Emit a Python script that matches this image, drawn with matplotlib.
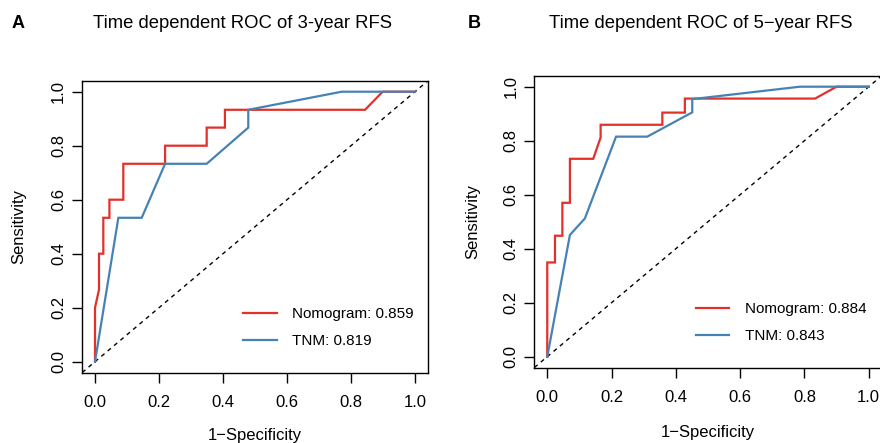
import matplotlib
matplotlib.use("Agg")
import matplotlib.pyplot as plt

plt.rcParams['font.family'] = ['Liberation Sans', 'DejaVu Sans']

# ---- data ----
ticks = [0.0, 0.2, 0.4, 0.6, 0.8, 1.0]
tick_labels = ["0.0", "0.2", "0.4", "0.6", "0.8", "1.0"]

titles = ["Time dependent ROC of 3-year RFS", "Time dependent ROC of 5\u2212year RFS"]
panel_letters = ["A", "B"]
series_names = ["Nomogram", "TNM"]
auc_3y = [0.859, 0.819]
auc_5y = [0.884, 0.843]

nomo3_fpr = [0, 0, 0.0125, 0.0125, 0.026, 0.026, 0.045, 0.045, 0.0885, 0.0885,
             0.219, 0.219, 0.349, 0.349, 0.406, 0.406, 0.844, 0.899, 1.0]
nomo3_tpr = [0, 0.2, 0.267, 0.4, 0.4, 0.533, 0.533, 0.6, 0.6, 0.733,
             0.733, 0.8, 0.8, 0.867, 0.867, 0.933, 0.933, 1.0, 1.0]
tnm3_fpr = [0, 0.073, 0.146, 0.219, 0.349, 0.479, 0.479, 0.771, 1.0]
tnm3_tpr = [0, 0.533, 0.533, 0.733, 0.733, 0.867, 0.933, 1.0, 1.0]

nomo5_fpr = [0, 0, 0.024, 0.024, 0.047, 0.047, 0.0705, 0.0705, 0.143, 0.166,
             0.166, 0.358, 0.358, 0.428, 0.428, 0.833, 0.900, 1.0]
nomo5_tpr = [0, 0.349, 0.349, 0.448, 0.448, 0.570, 0.570, 0.733, 0.733, 0.812,
             0.859, 0.859, 0.904, 0.904, 0.956, 0.956, 1.0, 1.0]
tnm5_fpr = [0, 0.0705, 0.117, 0.214, 0.311, 0.451, 0.451, 0.786, 1.0]
tnm5_tpr = [0, 0.451, 0.512, 0.815, 0.815, 0.905, 0.954, 1.0, 1.0]

RED = '#E3302B'
BLUE = '#4682B4'

W, H = 880, 443
fig = plt.figure(figsize=(W / 100, H / 100), dpi=100)

# axes rectangles in pixels (left, top, right, bottom)
rects = [(82.2, 80.9, 427.8, 372.5), (534.4, 75.9, 881.6, 367.5)]
title_x = [242, 701]
letter_x = [18, 474]
ylabel_x = [18.3, 472.3]
xlabel_top = [428, 425]

panels = [
    (nomo3_fpr, nomo3_tpr, tnm3_fpr, tnm3_tpr, auc_3y),
    (nomo5_fpr, nomo5_tpr, tnm5_fpr, tnm5_tpr, auc_5y),
]

for i, (nx, ny, tx, ty, aucs) in enumerate(panels):
    l, t, r, b = rects[i]
    ax = fig.add_axes([l / W, 1 - b / H, (r - l) / W, (b - t) / H])
    ax.set_xlim(-0.04, 1.04)
    ax.set_ylim(-0.04, 1.04)
    ax.axline((0, 0), (1, 1), color='black', lw=1.0, ls=(0, (3, 3)))
    ax.plot(nx, ny, color=RED, lw=1.6, label=f"{series_names[0]}: {aucs[0]:.3f}",
            solid_joinstyle='miter')
    ax.plot(tx, ty, color=BLUE, lw=1.6, label=f"{series_names[1]}: {aucs[1]:.3f}",
            solid_joinstyle='miter')

    ax.set_xticks(ticks)
    ax.set_xticklabels(tick_labels)
    ax.set_yticks(ticks)
    ax.set_yticklabels(tick_labels, rotation=90, va='center')
    ax.tick_params(axis='both', direction='out', length=7, width=1.0,
                   labelsize=12, colors='black')
    ax.tick_params(axis='x', pad=9)
    ax.tick_params(axis='y', pad=4.5)
    for s in ax.spines.values():
        s.set_linewidth(1.0)

    ax.set_xlabel("1\u2212Specificity", fontsize=12)
    ax.xaxis.set_label_coords(0.5, (b - xlabel_top[i]) / (b - t))
    ax.set_ylabel("Sensitivity", fontsize=12)
    ax.yaxis.label.set_va('center')
    ax.yaxis.set_label_coords((ylabel_x[i] - l) / (r - l), 0.5)

    ax.legend(loc='center left', bbox_to_anchor=(0.465, 0.154),
              frameon=False, fontsize=11, handlelength=2.2,
              handletextpad=1.0, labelspacing=0.85, borderpad=0,
              borderaxespad=0)

    fig.text(title_x[i] / W, 1 - 28 / H, titles[i], fontsize=13.3,
             ha='center', va='baseline')
    fig.text(letter_x[i] / W, 1 - 28 / H, panel_letters[i], fontsize=13,
             fontweight='bold', ha='center', va='baseline')

fig.savefig("out.png", dpi=100)
